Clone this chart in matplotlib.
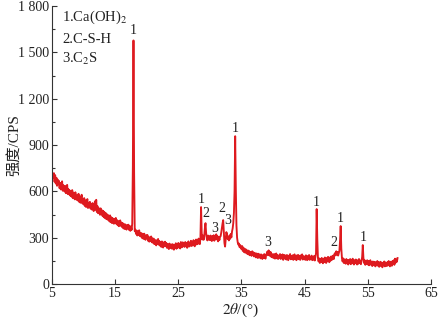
import numpy as np
import matplotlib
matplotlib.use("Agg")
import matplotlib.pyplot as plt
from matplotlib.ticker import MultipleLocator

# XRD pattern at 0.1 deg steps (5.2 .. 59.7)
counts_rows = [
    [690, 718, 662, 705, 650, 688, 636, 676],                       # 5.2-5.9
    [645, 668, 620, 655, 612, 645, 665, 604, 640, 615],             # 6
    [598, 635, 588, 620, 642, 582, 614, 580, 606, 572],             # 7
    [598, 565, 608, 556, 592, 570, 548, 594, 560, 545],             # 8
    [575, 540, 584, 532, 566, 526, 560, 578, 522, 552],             # 9
    [515, 556, 505, 542, 498, 534, 550, 492, 526, 500],             # 10
    [532, 488, 518, 482, 524, 490, 472, 514, 536, 480],             # 11
    [545, 466, 504, 458, 492, 464, 448, 490, 452, 478],             # 12
    [440, 474, 432, 466, 426, 460, 420, 452, 416, 446],             # 13
    [436, 405, 444, 400, 432, 394, 426, 408, 390, 422],             # 14
    [398, 428, 388, 414, 380, 408, 374, 402, 412, 376],             # 15
    [398, 368, 394, 360, 388, 356, 386, 366, 352, 382],             # 16
    [360, 384, 350, 376, 344, 372, 350, 390, 760, 1577],            # 17
    [720, 342, 352, 324, 346, 314, 340, 318, 348, 310],             # 18
    [332, 306, 328, 296, 322, 292, 326, 300, 286, 316],             # 19
    [296, 318, 280, 306, 274, 300, 278, 308, 270, 296],             # 20
    [266, 294, 258, 286, 264, 250, 284, 258, 292, 254],             # 21
    [278, 248, 272, 240, 276, 254, 236, 270, 246, 274],             # 22
    [244, 266, 234, 260, 238, 226, 262, 240, 232, 256],             # 23
    [228, 258, 236, 222, 254, 234, 264, 228, 252, 236],             # 24
    [266, 236, 260, 230, 272, 246, 238, 270, 244, 262],             # 25
    [240, 272, 246, 266, 234, 262, 276, 242, 264, 248],             # 26
    [280, 246, 272, 250, 284, 258, 244, 276, 288, 256],             # 27
    [282, 260, 294, 270, 258, 300, 498, 330, 288, 314],             # 28
    [286, 308, 360, 394, 330, 296, 282, 314, 288, 308],             # 29
    [284, 314, 292, 278, 310, 286, 316, 280, 304, 290],             # 30
    [322, 288, 310, 276, 304, 284, 306, 310, 335, 365],             # 31
    [392, 414, 340, 265, 242, 290, 336, 325, 292, 304],             # 32
    [282, 314, 292, 324, 302, 340, 360, 395, 460, 600],             # 33
    [957, 620, 380, 300, 270, 255, 262, 238, 252, 232],             # 34
    [226, 246, 214, 236, 206, 228, 202, 224, 208, 196],             # 35
    [218, 192, 214, 186, 208, 194, 182, 212, 188, 204],             # 36
    [178, 202, 184, 172, 198, 176, 168, 196, 174, 190],             # 37
    [166, 192, 172, 162, 188, 168, 194, 174, 164, 188],             # 38
    [198, 210, 186, 218, 196, 182, 208, 176, 194, 172],             # 39
    [192, 168, 194, 164, 186, 198, 166, 188, 162, 184],             # 40
    [172, 194, 162, 186, 166, 192, 156, 182, 188, 164],             # 41
    [184, 158, 188, 168, 154, 184, 166, 194, 160, 178],             # 42
    [164, 186, 156, 182, 192, 160, 178, 154, 186, 166],             # 43
    [188, 160, 182, 156, 186, 168, 192, 158, 180, 164],             # 44
    [178, 156, 186, 166, 154, 182, 160, 188, 156, 176],             # 45
    [162, 184, 154, 176, 158, 182, 152, 175, 200, 485],             # 46
    [290, 168, 146, 166, 136, 162, 141, 169, 146, 134],             # 47
    [164, 141, 172, 148, 136, 169, 146, 176, 151, 141],             # 48
    [172, 151, 179, 156, 174, 184, 161, 192, 200, 185],             # 49
    [212, 191, 208, 184, 200, 215, 280, 375, 230, 168],             # 50
    [146, 166, 136, 159, 141, 131, 162, 138, 154, 126],             # 51
    [156, 136, 162, 128, 152, 134, 164, 138, 126, 154],             # 52
    [134, 159, 138, 126, 154, 131, 162, 136, 152, 128],             # 53
    [149, 175, 252, 170, 136, 154, 124, 149, 131, 154],             # 54
    [126, 149, 121, 144, 154, 124, 142, 116, 146, 128],             # 55
    [121, 144, 114, 139, 124, 149, 118, 142, 111, 136],             # 56
    [144, 116, 139, 108, 134, 121, 146, 114, 139, 124],             # 57
    [116, 142, 121, 149, 124, 114, 144, 128, 118, 149],             # 58
    [131, 154, 124, 164, 138, 159, 144, 168],                       # 59.0-59.7
]
start_angle = 5.2
angle_step = 0.1

# peak labels: (text, 2theta, intensity)
peak_labels = ["1", "1", "2", "3", "2", "3", "1", "3", "1", "2", "1", "1"]
peak_x = [17.8, 28.6, 29.4, 30.8, 31.9, 32.8, 34.0, 39.2, 46.9, 49.6, 50.6, 54.2]
peak_y = [1640, 550, 455, 362, 490, 412, 1005, 271, 530, 271, 427, 304]

legend_lines = [r"1.Ca(OH)$_2$", "2.C-S-H", r"3.C$_2$S"]
legend_y = [1726, 1580, 1455]

yticks = [0, 300, 600, 900, 1200, 1500, 1800]
ytick_labels = ["0", "300", "600", "900", "1 200", "1 500", "1 800"]
xticks = [5, 15, 25, 35, 45, 55, 65]

counts = np.concatenate([np.array(r, dtype=float) for r in counts_rows])
angles = np.round(start_angle + angle_step * np.arange(len(counts)), 1)

plt.rcParams["font.family"] = ["Liberation Serif", "Noto Sans CJK SC"]
plt.rcParams["mathtext.fontset"] = "stix"

red = "#de1a1f"
fig = plt.figure(figsize=(4.39, 3.23), dpi=100)
ax = fig.add_axes([52 / 439, 39 / 323, 379 / 439, 278 / 323])

ax.plot(angles, counts, color=red, linewidth=1.35)

for lab, px, py in zip(peak_labels, peak_x, peak_y):
    ax.text(px, py, lab, ha="center", va="center", fontsize=10, color="#222222")

for txt, ly in zip(legend_lines, legend_y):
    ax.text(6.6, ly, txt, ha="left", va="center", fontsize=10.5, color="#222222")

ax.set_xlim(5, 65)
ax.set_ylim(0, 1800)
ax.set_xticks(xticks)
ax.set_xticklabels([str(t) for t in xticks])
ax.set_yticks(yticks)
ax.set_yticklabels(ytick_labels)
ax.yaxis.set_minor_locator(MultipleLocator(150))
ax.tick_params(axis="both", which="major", direction="in", length=3.5, width=0.8,
               labelsize=10, pad=2, color="#333333", labelcolor="#222222")
ax.tick_params(axis="y", which="minor", direction="in", length=2.5, width=0.8, color="#333333")

for side in ["top", "right"]:
    ax.spines[side].set_visible(False)
for side in ["left", "bottom"]:
    ax.spines[side].set_linewidth(0.8)
    ax.spines[side].set_color("#333333")

ax.set_xlabel(r"$2\theta$/(°)", fontsize=11, color="#222222")
ax.set_ylabel("强度/CPS", fontsize=11, color="#222222")
ax.xaxis.set_label_coords((240 - 52) / 379, (284 - 302) / 278)
ax.yaxis.set_label_coords((21 - 52) / 379, 0.5)

fig.savefig("out.png", dpi=100)
